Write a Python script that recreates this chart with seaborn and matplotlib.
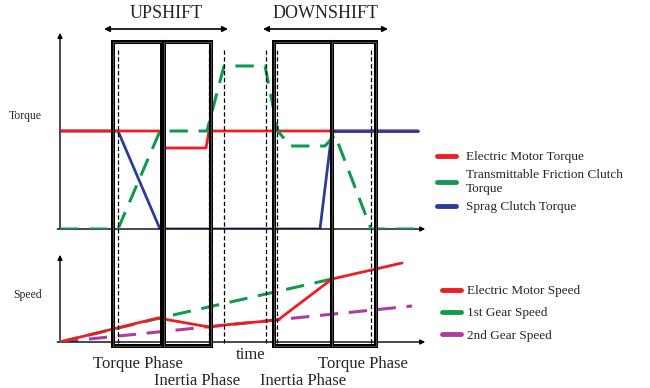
import pandas as pd
import matplotlib
matplotlib.use('Agg')
from matplotlib import pyplot as plt
from matplotlib.patches import Rectangle
from matplotlib.lines import Line2D
import matplotlib.transforms as mtransforms
import seaborn as sns

sns.set_style('white')
plt.rcParams['font.family'] = ['Liberation Serif', 'DejaVu Serif']

# time axis shared by both panels (arbitrary units)
motor_torque_t = [0, 102, 104, 146, 149, 358]
motor_torque = [98, 98, 81, 81, 98, 98]
clutch_torque_t = [0, 58, 100, 147, 164, 205, 218, 230, 265, 275, 311, 360]
clutch_torque = [0, 0, 98, 98, 163, 163, 98, 83, 83, 94, 0, 0]
sprag_torque_t = [0, 58, 100, 260, 272, 358]
sprag_torque = [98, 98, 0, 0, 98, 98]

motor_speed_t = [0, 98, 149, 164, 218, 272, 342]
motor_speed = [0, 24, 15, 17, 22, 63, 79]
gear1_speed_t = [0, 100, 272]
gear1_speed = [0, 24, 63]
gear2_speed_t = [0, 352]
gear2_speed = [0, 36]

# shift phases (start, end) and dashed phase marks
phase_boxes = [(53, 102), (104, 151), (214, 272), (272, 316)]
phase_marks = [58, 149, 164, 206, 217, 311]
shift_spans = {'UPSHIFT': (44, 168), 'DOWNSHIFT': (203, 328)}

RED = '#ee1d23'
GREEN = '#0f9b4f'
BLUE = '#2b3c9b'
MAGENTA = '#b03c9e'

W, H = 650, 388


def fy(py):
    # pixel row -> figure fraction
    return 1 - py / H


fig = plt.figure(figsize=(6.5, 3.88), dpi=100)
ax1 = fig.add_axes([60 / W, fy(229), 368 / W, 199 / H])
ax2 = fig.add_axes([60 / W, fy(342), 368 / W, 90 / H])
ax1.set_xlim(0, 368)
ax1.set_ylim(0, 199)
ax2.set_xlim(0, 368)
ax2.set_ylim(0, 90)

for ax in (ax1, ax2):
    sns.despine(ax=ax, left=True, bottom=True)
    ax.set_xticks([])
    ax.set_yticks([])
    ax.set_xlabel('')
    ax.set_ylabel('')
    ax.patch.set_alpha(0)
    ax.annotate('', xy=(1.0, 0), xytext=(-0.015, 0), xycoords='axes fraction',
                arrowprops=dict(arrowstyle='-|>', color='black', lw=1, mutation_scale=7))
    ax.annotate('', xy=(0, 1), xytext=(0, -0.01), xycoords='axes fraction',
                arrowprops=dict(arrowstyle='-|>', color='black', lw=1, mutation_scale=7))

# torque panel
sns.lineplot(x=sprag_torque_t, y=sprag_torque, ax=ax1, color=BLUE, lw=2,
             sort=False, estimator=None, zorder=2)
sns.lineplot(x=motor_torque_t, y=motor_torque, ax=ax1, color=RED, lw=2,
             sort=False, estimator=None, zorder=3)
sns.lineplot(x=sprag_torque_t[4:], y=sprag_torque[4:], ax=ax1, color=BLUE, lw=2,
             sort=False, estimator=None, zorder=4)
sns.lineplot(x=clutch_torque_t, y=clutch_torque, ax=ax1, color=GREEN, lw=2.2,
             sort=False, estimator=None, zorder=5, dashes=False)
ax1.lines[-1].set_dashes((6, 3.5))

# speed panel
sns.lineplot(x=gear2_speed_t, y=gear2_speed, ax=ax2, color=MAGENTA, lw=2.2,
             sort=False, estimator=None, zorder=2)
ax2.lines[-1].set_dashes((6, 3.5))
sns.lineplot(x=gear1_speed_t, y=gear1_speed, ax=ax2, color=GREEN, lw=2.2,
             sort=False, estimator=None, zorder=3)
ax2.lines[-1].set_dashes((6, 3.5))
sns.lineplot(x=motor_speed_t, y=motor_speed, ax=ax2, color=RED, lw=2,
             sort=False, estimator=None, zorder=4)

# phase boxes and marks spanning both panels
trans = mtransforms.blended_transform_factory(ax1.transData, fig.transFigure)
for t0, t1 in phase_boxes:
    for lw, col in ((2.9, 'black'), (0.4, '#8a8a8a')):
        fig.patches.append(Rectangle((t0, fy(346)), t1 - t0, fy(42) - fy(346),
                                     transform=trans, fill=False, lw=lw,
                                     edgecolor=col, zorder=10))
for t in phase_marks:
    fig.lines.append(Line2D([t, t], [fy(343), fy(50)], transform=trans,
                            color='black', lw=0.9, dashes=(3.5, 2), zorder=9))

# shift headers
for name, (t0, t1) in shift_spans.items():
    ax1.annotate('', xy=(t1, fy(29)), xytext=(t0, fy(29)), xycoords=trans,
                 arrowprops=dict(arrowstyle='<|-|>', color='black', lw=1.2,
                                 mutation_scale=8, shrinkA=0, shrinkB=0))
    fig.text(((t0 + t1) / 2 + 60) / W, fy(13), name, ha='center', va='center',
             fontsize=13)

fig.text(25 / W, fy(116), 'Torque', ha='center', va='center', fontsize=8.5)
fig.text(28 / W, fy(295), 'Speed', ha='center', va='center', fontsize=8.5)
fig.text(251 / W, fy(355), 'time', ha='center', va='center', fontsize=12)
fig.text(138 / W, fy(364), 'Torque Phase', ha='center', va='center', fontsize=12)
fig.text(197 / W, fy(381), 'Inertia Phase', ha='center', va='center', fontsize=12)
fig.text(303 / W, fy(381), 'Inertia Phase', ha='center', va='center', fontsize=12)
fig.text(363 / W, fy(364), 'Torque Phase', ha='center', va='center', fontsize=12)

# legends
top_handles = [Line2D([], [], color=c, lw=3.5) for c in (RED, GREEN, BLUE)]
top_labels = ['Electric Motor Torque', 'Transmittable Friction Clutch\nTorque',
              'Sprag Clutch Torque']
fig.legend(top_handles, top_labels, loc='upper left',
           bbox_to_anchor=(437 / W, fy(151)), frameon=False, fontsize=9.5,
           handlelength=1.45, handletextpad=0.75, labelspacing=0.45,
           borderpad=0, borderaxespad=0)
bot_handles = [Line2D([], [], color=c, lw=3.5) for c in (RED, GREEN, MAGENTA)]
bot_labels = ['Electric Motor Speed', '1st Gear Speed', '2nd Gear Speed']
fig.legend(bot_handles, bot_labels, loc='upper left',
           bbox_to_anchor=(442 / W, fy(285)), frameon=False, fontsize=9.5,
           handlelength=1.45, handletextpad=0.45, labelspacing=0.75,
           borderpad=0, borderaxespad=0)

fig.savefig('out.png', dpi=100)
